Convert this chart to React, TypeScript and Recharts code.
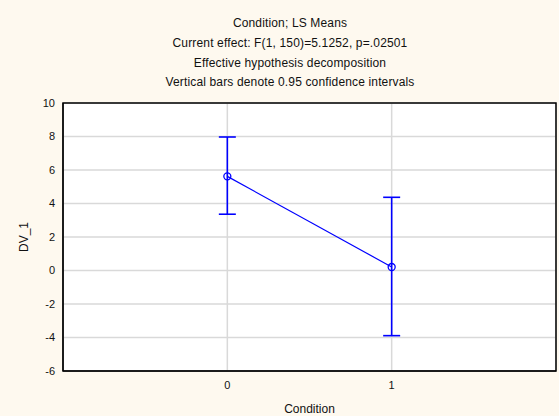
import { CartesianGrid, ComposedChart, ErrorBar, Line, ReferenceArea, XAxis, YAxis } from "recharts";

const CONDITIONS = [0, 1];
const MEANS = [5.62, 0.21];
const LOWER = [3.36, -3.89];
const UPPER = [7.97, 4.37];
const Y_TICKS = [-6, -4, -2, 0, 2, 4, 6, 8, 10];
const X_TICKS = [0, 1];
const TITLES = [
  "Condition; LS Means",
  "Current effect: F(1, 150)=5.1252, p=.02501",
  "Effective hypothesis decomposition",
  "Vertical bars denote 0.95 confidence intervals",
];
const TITLE_Y = [23, 43, 62.5, 82];

const BLUE = "#0000ff";
const FONT = "'Liberation Sans', Arial, sans-serif";

const data = CONDITIONS.map((c, i) => ({
  x: c,
  mean: MEANS[i],
  err: [MEANS[i] - LOWER[i], UPPER[i] - MEANS[i]],
}));

const HollowDot = (props: any) => {
  const { cx, cy } = props;
  if (cx == null || cy == null) return null;
  return <circle cx={cx} cy={cy} r={3.5} fill="none" stroke={BLUE} strokeWidth={1.3} />;
};

export default function App() {
  return (
    <div style={{ position: "absolute", left: 0, top: 0, width: 559, height: 416, background: "#fef9ef", fontFamily: FONT }}>
      {TITLES.map((t, i) => (
        <div
          key={i}
          style={{
            position: "absolute",
            left: 0,
            width: 580,
            top: TITLE_Y[i] - 7,
            height: 14,
            lineHeight: "14px",
            fontSize: 12,
            letterSpacing: 0.15,
            textAlign: "center",
            color: "#111",
          }}
        >
          {t}
        </div>
      ))}
      <div style={{ position: "absolute", left: 0, top: 0 }}>
        <ComposedChart width={559} height={416} data={data} margin={{ top: 103, right: 3, bottom: 0, left: 0 }}>
          <CartesianGrid stroke="#d9d9d9" strokeWidth={1.5} fill="#ffffff" />
          <XAxis
            type="number"
            dataKey="x"
            domain={[-1, 2]}
            ticks={X_TICKS}
            allowDataOverflow
            height={45}
            tickLine={false}
            axisLine={{ stroke: "#000" }}
            tickMargin={4}
            tick={{ fontSize: 11, fill: "#111", fontFamily: FONT }}
            label={{ value: "Condition", position: "insideBottom", offset: 3, fontSize: 12, fill: "#111", fontFamily: FONT }}
          />
          <YAxis
            type="number"
            domain={[-6, 10]}
            ticks={Y_TICKS}
            allowDataOverflow
            width={63}
            tickLine={false}
            axisLine={{ stroke: "#000" }}
            tick={{ fontSize: 11, fill: "#111", fontFamily: FONT }}
            label={{
              value: "DV_1",
              angle: -90,
              position: "insideLeft",
              offset: 24,
              style: { textAnchor: "middle", fontSize: 12, fill: "#111", fontFamily: FONT },
            }}
          />
          <ReferenceArea x1={-1} x2={2} y1={-6} y2={10} fill="none" stroke="#000" strokeWidth={1.5} ifOverflow="visible" />
          <Line
            type="linear"
            dataKey="mean"
            stroke={BLUE}
            strokeWidth={1.2}
            dot={<HollowDot />}
            activeDot={false}
            isAnimationActive={false}
          >
            <ErrorBar dataKey="err" direction="y" width={8.5} stroke={BLUE} strokeWidth={1.6} isAnimationActive={false} />
          </Line>
        </ComposedChart>
      </div>
    </div>
  );
}
